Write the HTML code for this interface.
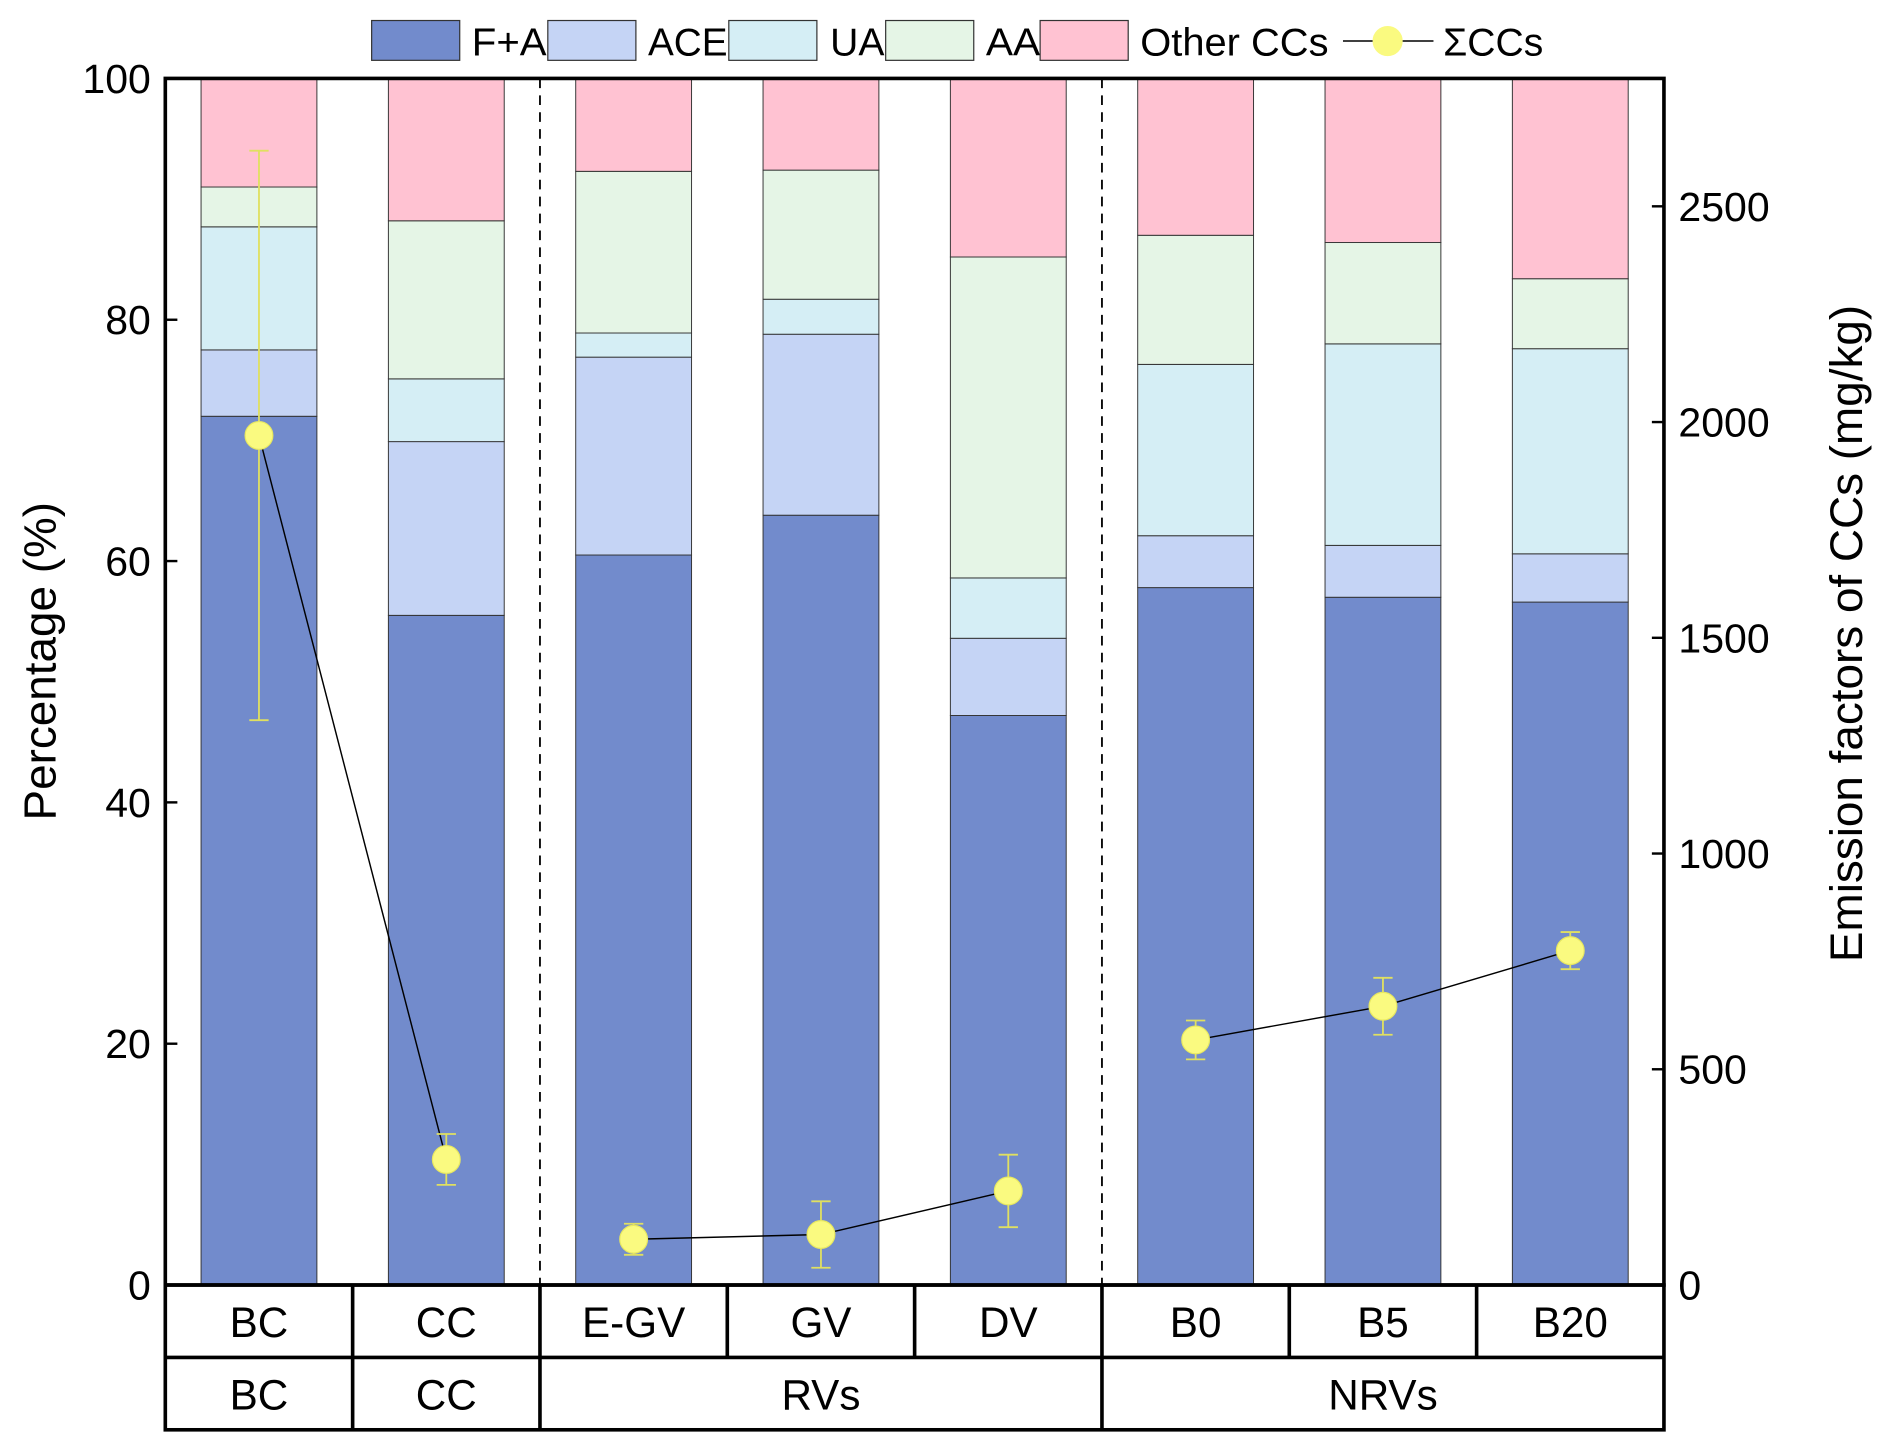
<!DOCTYPE html>
<html><head><meta charset="utf-8"><style>
html,body{margin:0;padding:0;background:#fff;}
svg{display:block;font-family:"Liberation Sans",Arial,sans-serif;}
</style></head><body>
<svg id="chart" width="1892" height="1452" viewBox="0 0 1568 1203.4" preserveAspectRatio="none" xmlns="http://www.w3.org/2000/svg"></svg>
<script>
const categories = ["BC","CC","E-GV","GV","DV","B0","B5","B20"];
const groups = [["BC",0,1],["CC",1,2],["RVs",2,5],["NRVs",5,8]];
const seriesNames = ["F+A","ACE","UA","AA","Other CCs"];
const faValues = [72, 55.5, 60.5, 63.8, 47.2, 57.8, 57.0, 56.6];
const aceValues = [5.5, 14.4, 16.4, 15.0, 6.4, 4.3, 4.3, 4.0];
const uaValues = [10.2, 5.2, 2.0, 2.9, 5.0, 14.2, 16.7, 17.0];
const aaValues = [3.3, 13.1, 13.4, 10.7, 26.6, 10.7, 8.4, 5.8];
const otherValues = [9.0, 11.8, 7.7, 7.6, 14.8, 13.0, 13.6, 16.6];
const sumValues = [1969, 291, 106, 117, 218, 568, 646, 775];
const sumErrors = [660, 59, 36, 77, 84, 45, 66, 43];
const lineSegments = [[0,1],[2,3,4],[5,6,7]];
const leftTicks = [0,20,40,60,80,100];
const rightTicks = [0,500,1000,1500,2000,2500];

const colors = ["#728bcc","#c5d4f5","#d5eef5","#e5f5e6","#ffc2d2"];
const svg = document.getElementById('chart');
const NS = "http://www.w3.org/2000/svg";
const X0=137, X1=1379, Y0=1065, Y1=65;
const bw=(X1-X0)/categories.length;
const xc=i=>X0+bw*(i+0.5);
const yL=v=>Y0-(v/100)*(Y0-Y1);
const yR=v=>Y0-v*0.3576;
function el(tag, attrs, text){const e=document.createElementNS(NS,tag);for(const k in attrs)e.setAttribute(k,attrs[k]);if(text!==undefined)e.textContent=text;svg.appendChild(e);return e;}

const allSeries=[faValues,aceValues,uaValues,aaValues,otherValues];
categories.forEach((c,i)=>{
  let acc=0;
  allSeries.forEach((s,k)=>{
    const v=s[i];
    const r=el('rect',{x:xc(i)-48,y:yL(acc+v),width:96,height:yL(acc)-yL(acc+v),fill:colors[k],stroke:'#333','stroke-width':0.8});
    
    
    acc+=v;
  });
});
[2,5].forEach(g=>{
  const l=el('line',{x1:X0+bw*g,x2:X0+bw*g,y1:Y1,y2:Y0,stroke:'#000','stroke-width':1.5,'stroke-dasharray':'8,6'});
  
  
});
const fr=el('rect',{x:X0,y:Y1,width:X1-X0,height:Y0-Y1,fill:'none',stroke:'#000','stroke-width':3});


el('rect',{x:X0,y:Y0,width:X1-X0,height:120,fill:'none',stroke:'#000','stroke-width':3});
el('line',{x1:X0,x2:X1,y1:Y0+60,y2:Y0+60,stroke:'#000','stroke-width':3});
categories.forEach((c,i)=>{
  if(i>0) el('line',{x1:X0+bw*i,x2:X0+bw*i,y1:Y0,y2:Y0+60,stroke:'#000','stroke-width':3});
  const t=el('text',{x:xc(i),y:Y0+43,'font-size':35,'text-anchor':'middle'},c);
  
  
});
groups.forEach((g,j)=>{
  if(j>0) el('line',{x1:X0+bw*g[1],x2:X0+bw*g[1],y1:Y0+60,y2:Y0+120,stroke:'#000','stroke-width':3});
  const t=el('text',{x:X0+bw*(g[1]+g[2])/2,y:Y0+103,'font-size':35,'text-anchor':'middle'},g[0]);
  
  
});
leftTicks.forEach(v=>{
  el('line',{x1:X0,x2:X0+10,y1:yL(v),y2:yL(v),stroke:'#000','stroke-width':2});
  const t=el('text',{x:X0-12,y:yL(v)+12,'font-size':34,'text-anchor':'end'},v);
  
  
});
rightTicks.forEach(v=>{
  el('line',{x1:X1,x2:X1-10,y1:yR(v),y2:yR(v),stroke:'#000','stroke-width':2});
  const t=el('text',{x:X1+12,y:yR(v)+12,'font-size':34,'text-anchor':'start'},v);
  
  
});
const lt=el('text',{x:0,y:0,'font-size':38,'text-anchor':'middle',transform:'translate(46,548) rotate(-90)'},'Percentage (%)');


const rt=el('text',{x:0,y:0,'font-size':38,'text-anchor':'middle',transform:'translate(1543,525) rotate(-90)'},'Emission factors of CCs (mg/kg)');


lineSegments.forEach(seg=>{
  const p=el('polyline',{points:seg.map(i=>xc(i)+','+yR(sumValues[i])).join(' '),fill:'none',stroke:'#000','stroke-width':1.2});
  
  
});
categories.forEach((c,i)=>{
  const x=xc(i),y=yR(sumValues[i]),t=yR(sumValues[i]+sumErrors[i]),b=yR(sumValues[i]-sumErrors[i]);
  el('line',{x1:x,x2:x,y1:t,y2:b,stroke:'#e0e060','stroke-width':1.5});
  el('line',{x1:x-8,x2:x+8,y1:t,y2:t,stroke:'#e0e060','stroke-width':1.5});
  el('line',{x1:x-8,x2:x+8,y1:b,y2:b,stroke:'#e0e060','stroke-width':1.5});
  const m=el('circle',{cx:x,cy:y,r:11.5,fill:'#fafa80',stroke:'#e8e860','stroke-width':1});
  
  
});
const legX=[308,454,604,734,862];
const legTextX=[391,537,688,817,945];
seriesNames.forEach((n,k)=>{
  const r=el('rect',{x:legX[k],y:17,width:73,height:33,fill:colors[k],stroke:'#333','stroke-width':1});
  
  
  const t=el('text',{x:legTextX[k],y:46,'font-size':32,textLength:[62,66,45,45,156][k],lengthAdjust:'spacingAndGlyphs'},n);
  
  
});
el('line',{x1:1113,x2:1188,y1:34,y2:34,stroke:'#000','stroke-width':1.2});
const lm=el('circle',{cx:1150,cy:34,r:12,fill:'#fafa80',stroke:'#fafa80'});


const lst=el('text',{x:1196,y:46,'font-size':32,textLength:83,lengthAdjust:'spacingAndGlyphs'},'ΣCCs');


</script>
</body></html>
